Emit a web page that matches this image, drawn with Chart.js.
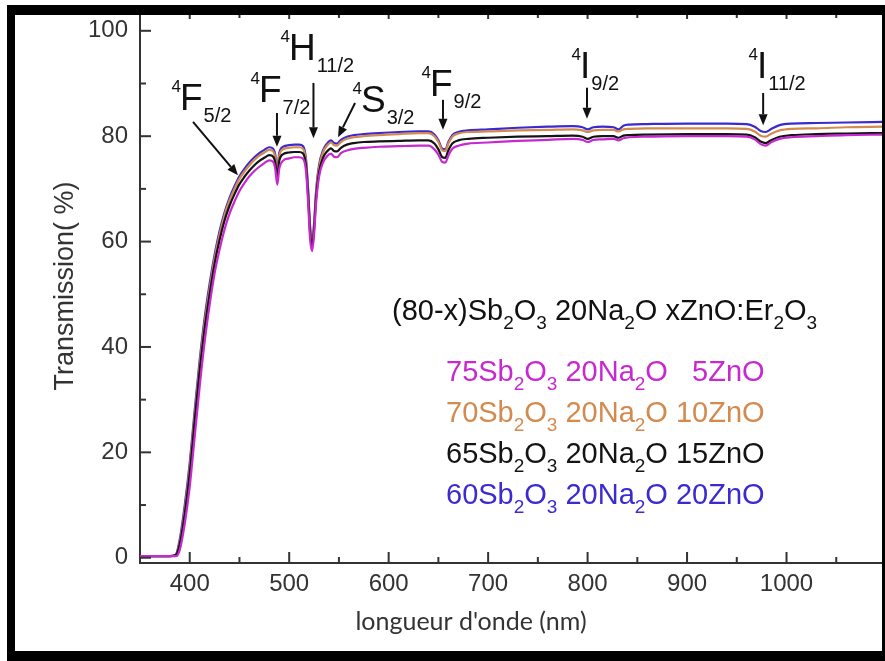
<!DOCTYPE html>
<html><head><meta charset="utf-8">
<script src="https://cdn.jsdelivr.net/npm/chart.js@4.4.1/dist/chart.umd.min.js"></script>
<style>html,body{margin:0;padding:0;background:#fff}#wrap{width:885px;height:661px;position:relative}</style>
</head><body><div id="wrap"><canvas id="c" width="885" height="661"></canvas></div>
<script>
// ---------------- data ----------------
const wavelengths = [
  350, 380, 386, 390, 395, 400, 405, 410, 415, 420,
  425, 430, 435, 440, 445, 450, 455, 460, 465, 470,
  475, 480, 484, 486, 488, 490, 494, 500, 505, 510,
  514, 517, 519, 521, 523, 525, 527, 530, 534, 538,
  542, 545, 548, 552, 558, 565, 575, 590, 610, 630,
  640, 646, 650, 654, 657, 660, 664, 670, 680, 700,
  730, 760, 785, 795, 800, 806, 815, 826, 831, 836,
  842, 860, 900, 940, 960, 968, 974, 979, 985, 993,
  1005, 1030, 1060, 1097
];
// 75Sb2O3 20Na2O 5ZnO (magenta)
const zno5 = [
  0.3, 0.3, 0.3, 1.5, 6.5, 13.5, 23, 32.5, 41, 48,
  54, 58.5, 62.3, 65.3, 67.6, 69.6, 71.1, 72.4, 73.4, 74.2,
  74.9, 75.4, 75.1, 73.8, 70.8, 73.8, 75.4, 75.8, 76.0, 76.0,
  75.7, 73.2, 67.5, 60.5, 58.2, 61.3, 67.2, 72.3, 75.0, 76.2,
  76.7, 76.1, 76.0, 76.8, 77.3, 77.6, 77.8, 78.0, 78.1, 78.2,
  78.2, 77.5, 76.5, 75.1, 75.0, 76.3, 77.6, 78.2, 78.6, 78.8,
  79.1, 79.3, 79.5, 79.3, 78.9, 79.3, 79.4, 79.5, 79.2, 79.6,
  79.8, 79.9, 80.0, 80.0, 79.9, 79.4, 78.5, 78.2, 78.9, 79.5,
  79.8, 80.0, 80.2, 80.3
];
// 70Sb2O3 20Na2O 10ZnO (orange)
const zno10 = [
  0.3, 0.3, 0.5, 3.0, 9.0, 17, 27, 36.5, 44.5, 51,
  56.8, 61.3, 65, 67.8, 70, 71.9, 73.3, 74.5, 75.5, 76.3,
  76.9, 77.4, 77.1, 76.0, 73.3, 76.3, 77.5, 77.8, 77.9, 77.9,
  77.6, 75, 69.5, 62.5, 59.6, 63, 69, 74, 76.9, 78.2,
  78.8, 78.3, 78.2, 78.9, 79.5, 79.8, 80.0, 80.2, 80.4, 80.6,
  80.6, 80.0, 78.9, 77.3, 77.2, 78.6, 79.9, 80.5, 80.8, 80.9,
  81.1, 81.2, 81.3, 81.1, 80.8, 81.1, 81.2, 81.2, 80.9, 81.3,
  81.4, 81.5, 81.5, 81.5, 81.4, 80.9, 80.1, 79.9, 80.5, 81.1,
  81.4, 81.5, 81.7, 81.8
];
// 65Sb2O3 20Na2O 15ZnO (black)
const zno15 = [
  0.3, 0.3, 0.5, 2.6, 8.3, 16, 26, 35.5, 43.5, 50,
  55.8, 60.3, 64, 66.8, 69, 70.9, 72.3, 73.5, 74.5, 75.3,
  75.9, 76.4, 76.1, 75.0, 72.4, 75.3, 76.6, 76.9, 77.0, 77.0,
  76.7, 74.2, 68.8, 61.8, 59.0, 62.3, 68.2, 73.1, 75.9, 77.1,
  77.7, 77.2, 77.1, 77.8, 78.4, 78.7, 78.9, 79.0, 79.1, 79.2,
  79.2, 78.6, 77.5, 76.0, 75.9, 77.3, 78.6, 79.2, 79.5, 79.7,
  79.9, 80.0, 80.1, 79.9, 79.5, 79.9, 80.0, 80.0, 79.7, 80.1,
  80.2, 80.3, 80.4, 80.4, 80.3, 79.8, 79.0, 78.7, 79.3, 79.9,
  80.2, 80.4, 80.5, 80.6
];
// 60Sb2O3 20Na2O 20ZnO (blue)
const zno20 = [
  0.3, 0.3, 0.6, 3.5, 10, 18, 28, 37.5, 45.5, 52,
  57.5, 62, 65.5, 68.3, 70.5, 72.4, 73.8, 75, 76, 76.8,
  77.4, 77.9, 77.6, 76.5, 73.8, 76.8, 78.0, 78.3, 78.4, 78.4,
  78.1, 75.5, 70, 63, 60, 63.5, 69.5, 74.5, 77.3, 78.6,
  79.2, 78.7, 78.6, 79.3, 79.9, 80.2, 80.4, 80.6, 80.8, 80.9,
  80.9, 80.3, 79.2, 77.6, 77.5, 78.9, 80.2, 80.8, 81.1, 81.3,
  81.6, 81.8, 81.9, 81.7, 81.3, 81.7, 81.8, 81.7, 81.3, 82.0,
  82.2, 82.3, 82.4, 82.4, 82.3, 81.8, 81.0, 80.8, 81.4, 82.1,
  82.4, 82.5, 82.6, 82.7
];
const xTicks = [400, 500, 600, 700, 800, 900, 1000];
const xMinorTicks = [450, 550, 650, 750, 850, 950, 1050];
const yTicks = [0, 20, 40, 60, 80, 100];
const yMinorTicks = [10, 30, 50, 70, 90];

// transition labels: superscript, letter, subscript; arrow tail/tip in (nm, %)
const transSup = ['4', '4', '4', '4', '4', '4', '4'];
const transMain = ['F', 'F', 'H', 'S', 'F', 'I', 'I'];
const transSub = ['5/2', '7/2', '11/2', '3/2', '9/2', '9/2', '11/2'];
const arrowTail = [[403.3, 82.7], [487.7, 84.4], [524.4, 90.1], [566.2, 86.3], [654.6, 86.9], [799.4, 89.2], [976.5, 88.2]];
const arrowTip  = [[448.5, 72.6], [487.7, 78.0], [524.4, 79.6], [549.1, 79.8], [654.6, 81.2], [799.4, 83.3], [976.5, 82.1]];

const headerParts = [['(80-x)Sb',0],['2',1],['O',0],['3',1],[' 20Na',0],['2',1],['O xZnO:Er',0],['2',1],['O',0],['3',1]];
const legendParts = [
  [['75Sb',0],['2',1],['O',0],['3',1],[' 20Na',0],['2',1],['O   5ZnO',0]],
  [['70Sb',0],['2',1],['O',0],['3',1],[' 20Na',0],['2',1],['O 10ZnO',0]],
  [['65Sb',0],['2',1],['O',0],['3',1],[' 20Na',0],['2',1],['O 15ZnO',0]],
  [['60Sb',0],['2',1],['O',0],['3',1],[' 20Na',0],['2',1],['O 20ZnO',0]]
];
const xTitle = "longueur d'onde (nm)";
const yTitle = 'Transmission( %)';

// ---------------- styles ----------------
const FAM = '"Liberation Sans", Arial, Helvetica, sans-serif';
const AXIS = '#333333';
const C_MAG = '#c828d0', C_ORA = '#d38a4e', C_BLK = '#141414', C_BLU = '#3a2ad0';
const legendColors = [C_MAG, C_ORA, C_BLK, C_BLU];
// label layout (pixels): main letter left x and baseline
const labelPos = [[180,110],[259,102],[289,60],[361,112],[430,96],[580,78],[757,78]];
const legendBase = [381, 422, 463, 504];

function drawRich(ctx, parts, x, y, size, subSize, subDy, color) {
  let cx = x;
  ctx.fillStyle = color;
  ctx.textAlign = 'left';
  ctx.textBaseline = 'alphabetic';
  for (const [t, k] of parts) {
    ctx.font = (k ? subSize : size) + 'px ' + FAM;
    ctx.fillText(t, cx, y + (k ? subDy : 0));
    cx += ctx.measureText(t).width;
  }
  return cx - x;
}
function arrow(ctx, x1, y1, x2, y2) {
  const a = Math.atan2(y2 - y1, x2 - x1), L = 11, W = 4.5;
  const bx = x2 - L * Math.cos(a), by = y2 - L * Math.sin(a);
  ctx.beginPath(); ctx.moveTo(x1, y1); ctx.lineTo(bx, by); ctx.stroke();
  ctx.beginPath(); ctx.moveTo(x2, y2);
  ctx.lineTo(bx - W * Math.sin(a), by + W * Math.cos(a));
  ctx.lineTo(bx + W * Math.sin(a), by - W * Math.cos(a));
  ctx.closePath(); ctx.fill();
}

const decor = {
  id: 'decor',
  afterDraw(chart) {
    const { ctx, chartArea: A, scales: { x, y } } = chart;
    ctx.save();
    ctx.strokeStyle = AXIS; ctx.lineWidth = 2;
    const seg = (x1, y1, x2, y2) => { ctx.beginPath(); ctx.moveTo(x1, y1); ctx.lineTo(x2, y2); ctx.stroke(); };
    xTicks.forEach(v => { const p = x.getPixelForValue(v); seg(p, A.bottom, p, A.bottom - 11); seg(p, A.top, p, A.top + 4); });
    xMinorTicks.forEach(v => { const p = x.getPixelForValue(v); seg(p, A.bottom, p, A.bottom - 6); seg(p, A.top, p, A.top + 3); });
    yTicks.forEach(v => { const p = y.getPixelForValue(v); seg(A.left, p, A.left + 11, p); });
    yMinorTicks.forEach(v => { const p = y.getPixelForValue(v); seg(A.left, p, A.left + 6, p); });

    // arrows and labels
    ctx.strokeStyle = '#111'; ctx.fillStyle = '#111'; ctx.lineWidth = 2;
    for (let i = 0; i < transMain.length; i++) {
      arrow(ctx, x.getPixelForValue(arrowTail[i][0]), y.getPixelForValue(arrowTail[i][1]),
                 x.getPixelForValue(arrowTip[i][0]), y.getPixelForValue(arrowTip[i][1]));
      const [lx, ly] = labelPos[i];
      ctx.textAlign = 'left'; ctx.textBaseline = 'alphabetic';
      ctx.font = '37px ' + FAM; ctx.fillText(transMain[i], lx, ly);
      const mw = ctx.measureText(transMain[i]).width;
      ctx.font = '17px ' + FAM; const sw = ctx.measureText(transSup[i]).width;
      ctx.fillText(transSup[i], lx - sw + 1, ly - 18);
      ctx.font = '20px ' + FAM; ctx.fillText(transSub[i], lx + mw + 1, ly + 12);
    }

    // header and legend text
    drawRich(ctx, headerParts, 392, 320, 29, 19, 9, '#111');
    legendParts.forEach((p, i) => drawRich(ctx, p, 446, legendBase[i], 29, 19, 9, legendColors[i]));

    // axis titles
    ctx.fillStyle = AXIS; ctx.textAlign = 'center'; ctx.textBaseline = 'middle';
    ctx.font = '25px Lato, "Open Sans", sans-serif';
    ctx.fillText(xTitle, 471, 622);
    ctx.save(); ctx.translate(66, 286); ctx.rotate(-Math.PI / 2);
    ctx.font = '27px ' + FAM; ctx.fillText(yTitle, 0, 0); ctx.restore();

    // outer black frame
    ctx.fillStyle = '#000';
    ctx.fillRect(7, 5, 8, 656);
    ctx.fillRect(7, 5, 878, 10);
    ctx.fillRect(7, 651, 878, 10);
    ctx.fillRect(882, 5, 3, 656);
    ctx.restore();
  }
};

const mk = (vals, color) => ({
  data: wavelengths.map((w, i) => ({ x: w, y: vals[i] })),
  borderColor: color, backgroundColor: color, borderWidth: 2.2,
  pointRadius: 0, fill: false, cubicInterpolationMode: 'monotone'
});
const noPad = s => { s.paddingTop = 0; s.paddingBottom = 0; s.paddingLeft = 0; s.paddingRight = 0; };

new Chart(document.getElementById('c'), {
  type: 'line',
  data: { datasets: [mk(zno5, C_MAG), mk(zno15, C_BLK), mk(zno10, C_ORA), mk(zno20, C_BLU)] },
  options: {
    responsive: false, animation: false, devicePixelRatio: 1,
    layout: { padding: { top: 15, right: 2, left: 0, bottom: 0 } },
    plugins: { legend: { display: false }, tooltip: { enabled: false }, title: { display: false } },
    scales: {
      x: {
        type: 'linear', min: 350, max: 1097,
        grid: { display: false, drawTicks: false },
        border: { display: true, color: AXIS, width: 2 },
        ticks: { font: { size: 24, family: FAM }, color: AXIS, padding: 7, maxRotation: 0, autoSkip: false,
                 callback: v => String(v) },
        afterBuildTicks: s => { s.ticks = xTicks.map(v => ({ value: v })); },
        afterFit: s => { s.height = 98; noPad(s); }
      },
      y: {
        type: 'linear', min: -1, max: 103,
        grid: { display: false, drawTicks: false },
        border: { display: true, color: AXIS, width: 2 },
        ticks: { font: { size: 24, family: FAM }, color: AXIS, padding: 12, autoSkip: false,
                 callback: v => String(v) },
        afterBuildTicks: s => { s.ticks = yTicks.map(v => ({ value: v })); },
        afterFit: s => { s.width = 140; noPad(s); }
      }
    }
  },
  plugins: [decor]
});
</script>
</body></html>
